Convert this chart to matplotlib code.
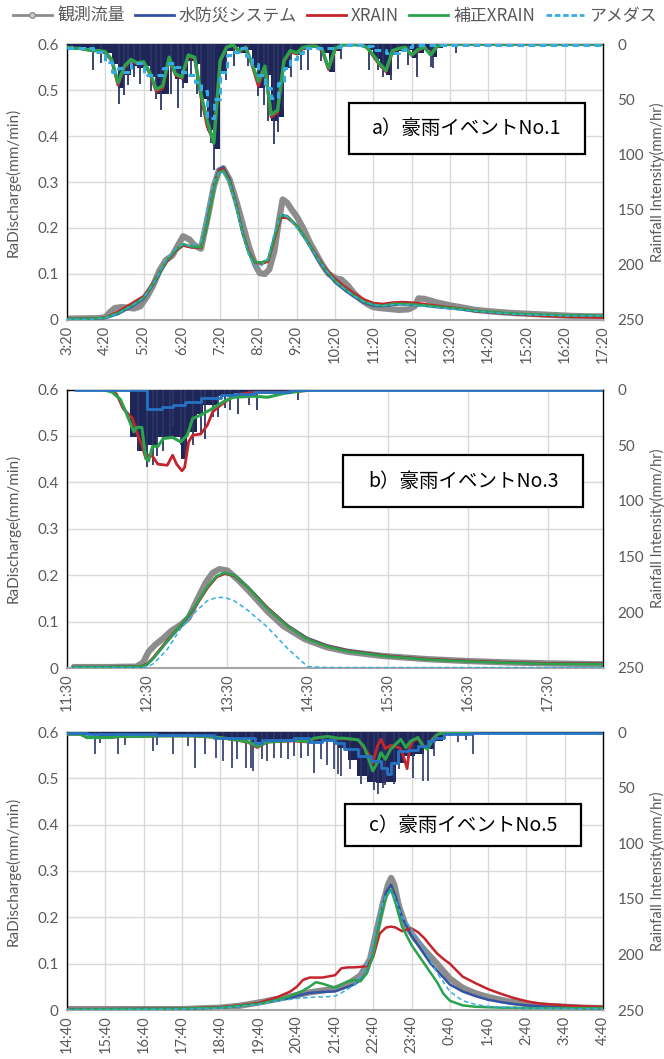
import numpy as np
import matplotlib
matplotlib.use("Agg")
import matplotlib.pyplot as plt
from matplotlib.lines import Line2D
from matplotlib.patches import Rectangle

plt.rcParams['font.family'] = ['Lato', 'Noto Sans CJK JP', 'DejaVu Sans']

# ---------------- text ----------------
legend_labels = ["観測流量", "水防災システム", "XRAIN", "補正XRAIN", "アメダス"]
ylabel_left = "RaDischarge(mm/min)"
ylabel_right = "Rainfall Intensity(mm/hr)"
panel_titles = ["a）豪雨イベントNo.1", "b）豪雨イベントNo.3", "c）豪雨イベントNo.5"]
q_ticks = [0, 0.1, 0.2, 0.3, 0.4, 0.5, 0.6]
q_tick_labels = ["0", "0.1", "0.2", "0.3", "0.4", "0.5", "0.6"]
r_ticks = [0, 50, 100, 150, 200, 250]

# ---------------- panel a ----------------
a_xlim = ["3:20", "17:20"]
a_ticks = ["3:20", "4:20", "5:20", "6:20", "7:20", "8:20", "9:20", "10:20",
           "11:20", "12:20", "13:20", "14:20", "15:20", "16:20", "17:20"]
a_obs_t = ["3:20", "4:10", "4:20", "4:28", "4:35", "4:45", "4:55", "5:05", "5:15", "5:25",
           "5:35", "5:45", "5:55", "6:05", "6:15", "6:22", "6:32", "6:40", "6:50", "7:00",
           "7:10", "7:18", "7:25", "7:35", "7:45", "7:55", "8:05", "8:15", "8:22", "8:30",
           "8:37", "8:45", "8:52", "8:58", "9:05", "9:12", "9:20", "9:30", "9:40", "9:50",
           "10:00", "10:10", "10:22", "10:30", "10:40", "10:50", "11:00", "11:10", "11:20", "11:30",
           "11:45", "12:00", "12:15", "12:25", "12:31", "12:40", "12:50", "13:00", "13:20", "13:40",
           "14:00", "14:30", "15:00", "15:30", "16:00", "16:30", "17:00", "17:20"]
a_obs_q = [0.003, 0.004, 0.006, 0.018, 0.026, 0.028, 0.027, 0.025, 0.03, 0.05,
           0.075, 0.108, 0.13, 0.14, 0.165, 0.182, 0.175, 0.162, 0.155, 0.22,
           0.29, 0.325, 0.33, 0.305, 0.26, 0.21, 0.16, 0.12, 0.102, 0.1,
           0.11, 0.15, 0.215, 0.262, 0.255, 0.24, 0.225, 0.2, 0.17, 0.145,
           0.12, 0.1, 0.09, 0.088, 0.075, 0.058, 0.045, 0.035, 0.028, 0.026,
           0.024, 0.022, 0.023, 0.03, 0.047, 0.046, 0.042, 0.038, 0.032, 0.027,
           0.022, 0.018, 0.015, 0.013, 0.011, 0.009, 0.008, 0.008]
a_sim_t = ["3:20", "4:00", "4:20", "4:40", "5:00", "5:20", "5:40", "5:55", "6:10", "6:22",
           "6:35", "6:50", "7:00", "7:10", "7:18", "7:25", "7:35", "7:45", "7:55", "8:05",
           "8:15", "8:25", "8:35", "8:45", "8:55", "9:05", "9:20", "9:35", "9:50", "10:05",
           "10:20", "10:35", "10:50", "11:05", "11:20", "11:35", "11:50", "12:05", "12:20", "12:40",
           "13:00", "13:30", "14:00", "14:30", "15:00", "15:30", "16:00", "16:30", "17:00", "17:20"]
a_blue_q = [0.002, 0.003, 0.004, 0.013, 0.028, 0.046, 0.088, 0.125, 0.15, 0.162,
            0.158, 0.158, 0.212, 0.29, 0.327, 0.332, 0.305, 0.252, 0.19, 0.145,
            0.125, 0.125, 0.13, 0.18, 0.228, 0.226, 0.205, 0.173, 0.138, 0.107,
            0.082, 0.065, 0.05, 0.038, 0.031, 0.03, 0.033, 0.034, 0.033, 0.031,
            0.028, 0.024, 0.019, 0.016, 0.013, 0.011, 0.01, 0.009, 0.009, 0.008]
a_red_q = [0.002, 0.003, 0.005, 0.018, 0.035, 0.052, 0.092, 0.125, 0.15, 0.162,
           0.158, 0.157, 0.21, 0.288, 0.325, 0.328, 0.302, 0.25, 0.19, 0.148,
           0.125, 0.122, 0.127, 0.175, 0.222, 0.222, 0.205, 0.175, 0.142, 0.113,
           0.09, 0.073, 0.058, 0.045, 0.037, 0.035, 0.038, 0.039, 0.038, 0.035,
           0.031, 0.026, 0.02, 0.016, 0.013, 0.01, 0.008, 0.007, 0.006, 0.005]
a_green_q = [0.002, 0.003, 0.005, 0.015, 0.03, 0.048, 0.09, 0.128, 0.152, 0.165,
             0.16, 0.158, 0.21, 0.285, 0.32, 0.325, 0.3, 0.25, 0.19, 0.145,
             0.125, 0.125, 0.13, 0.18, 0.228, 0.225, 0.205, 0.175, 0.14, 0.11,
             0.085, 0.068, 0.053, 0.04, 0.033, 0.031, 0.035, 0.035, 0.034, 0.032,
             0.029, 0.025, 0.02, 0.017, 0.014, 0.012, 0.011, 0.01, 0.01, 0.009]
a_cyan_q = [0.001, 0.002, 0.004, 0.014, 0.03, 0.048, 0.09, 0.13, 0.155, 0.165,
            0.16, 0.17, 0.24, 0.3, 0.322, 0.32, 0.295, 0.245, 0.185, 0.14,
            0.115, 0.118, 0.135, 0.19, 0.23, 0.225, 0.2, 0.17, 0.14, 0.11,
            0.085, 0.067, 0.052, 0.04, 0.033, 0.031, 0.033, 0.033, 0.032, 0.03,
            0.027, 0.023, 0.019, 0.016, 0.013, 0.011, 0.01, 0.009, 0.009, 0.009]
# rainfall panel a: 10-minute values from 3:20
a_rain_start = "3:20"
a_rain_step_min = 10
a_rain_end = "17:20"
a_rain_fill = [2, 3, 3, 4, 5, 6, 8, 18, 40, 28,
               20, 22, 20, 30, 45, 45, 20, 32, 35, 15,
               18, 50, 78, 95, 25, 6, 3, 8, 5, 22,
               40, 28, 70, 66, 22, 9, 10, 5, 3, 3,
               8, 25, 6, 2, 1, 1, 2, 5, 14, 22,
               28, 10, 6, 5, 13, 8, 5, 12, 4, 1,
               0]
a_rain_green = [3, 4, 4, 5, 6, 6, 7, 14, 35, 20,
                14, 17, 16, 26, 41, 38, 12, 27, 30, 10,
                12, 45, 70, 90, 15, 3, 1, 6, 3, 18,
                34, 20, 64, 60, 15, 6, 8, 3, 2, 2,
                5, 22, 4, 1, 0.5, 0.5, 1, 3, 10, 18,
                24, 6, 4, 3, 10, 5, 3, 10, 2, 0.5,
                0]
a_rain_red = [3, 4, 4, 5, 6, 6, 8, 15, 37, 21,
              15, 18, 17, 27, 43, 40, 13, 28, 31, 11,
              13, 48, 75, 88, 16, 3, 1, 7, 3, 19,
              38, 21, 66, 62, 16, 7, 9, 4, 2, 2,
              6, 23, 5, 1, 0.5, 0.5, 1, 3, 11, 19,
              25, 7, 4, 3, 10, 6, 3, 9, 2, 1,
              0]
a_rain_cyan = [4, 4, 4, 4, 7, 7, 16, 25, 22, 25,
               17, 17, 28, 28, 28, 22, 17, 21, 25, 28,
               34, 43, 67, 50, 25, 10, 7, 4, 11, 18,
               28, 40, 49, 35, 22, 14, 8, 4, 4, 4,
               4, 4, 3, 1, 0.5, 0.5, 0.5, 2, 5, 5,
               8, 8, 5, 3, 1, 0.5, 0.5, 0.5, 0.5, 0.5,
               0.5]
a_spike_t = ["4:00", "4:13", "4:41", "4:49", "4:55", "5:05", "5:15", "5:31", "5:40", "5:47",
             "6:03", "6:14", "6:22", "6:34", "6:44", "6:50", "7:01", "7:06", "7:10", "7:29",
             "7:42", "8:04", "8:19", "8:29", "8:35", "8:44", "8:50", "8:59", "9:11", "9:27",
             "9:38", "9:58", "10:19", "10:30", "11:14", "11:28", "11:36", "11:48", "11:59", "12:15",
             "12:28", "12:51", "12:54", "13:30"]
a_spike_r = [24, 17, 54, 46, 37, 30, 36, 43, 50, 60,
             45, 58, 40, 30, 45, 66, 79, 90, 114, 33,
             20, 20, 47, 55, 70, 91, 80, 60, 30, 24,
             24, 15, 24, 14, 24, 24, 30, 33, 23, 19,
             30, 21, 22, 8]

# ---------------- panel b ----------------
b_xlim = ["11:30", "18:11"]
b_ticks = ["11:30", "12:30", "13:30", "14:30", "15:30", "16:30", "17:30"]
b_obs_t = ["11:35", "12:00", "12:22", "12:27", "12:31", "12:36", "12:42", "12:48", "12:55", "13:01",
           "13:07", "13:14", "13:19", "13:24", "13:30", "13:38", "13:48", "14:00", "14:12", "14:28",
           "14:44", "15:00", "15:26", "16:00", "16:30", "17:00", "17:30", "18:11"]
b_obs_q = [0.002, 0.002, 0.003, 0.012, 0.035, 0.05, 0.064, 0.08, 0.093, 0.108,
           0.145, 0.185, 0.205, 0.213, 0.21, 0.19, 0.16, 0.122, 0.09, 0.062,
           0.045, 0.035, 0.026, 0.019, 0.015, 0.012, 0.01, 0.008]
b_sim_t = ["11:35", "12:00", "12:25", "12:30", "12:35", "12:45", "12:55", "13:05", "13:15", "13:22",
           "13:28", "13:35", "13:45", "14:00", "14:15", "14:30", "14:45", "15:00", "15:30", "16:00",
           "16:30", "17:00", "17:30", "18:11"]
b_blue_q = [0.002, 0.002, 0.003, 0.008, 0.022, 0.057, 0.09, 0.128, 0.173, 0.197,
            0.204, 0.2, 0.176, 0.13, 0.092, 0.064, 0.048, 0.038, 0.026, 0.019,
            0.015, 0.012, 0.01, 0.009]
b_red_q = [0.002, 0.002, 0.003, 0.009, 0.024, 0.06, 0.092, 0.128, 0.172, 0.196,
           0.203, 0.199, 0.175, 0.13, 0.091, 0.063, 0.047, 0.037, 0.026, 0.019,
           0.015, 0.012, 0.01, 0.009]
b_green_q = [0.002, 0.002, 0.003, 0.008, 0.022, 0.058, 0.092, 0.13, 0.175, 0.198,
             0.205, 0.2, 0.175, 0.128, 0.09, 0.062, 0.046, 0.036, 0.025, 0.018,
             0.014, 0.011, 0.009, 0.008]
b_cyan_q = [0.001, 0.001, 0.001, 0.002, 0.01, 0.04, 0.085, 0.118, 0.145, 0.152,
            0.152, 0.145, 0.125, 0.088, 0.042, 0.003, 0.001, 0.001, 0.001, 0.001,
            0.001, 0.001, 0.001, 0.001]
b_fill_t = ["12:15", "12:17", "12:22", "12:30", "12:37", "12:55", "13:00", "13:07", "13:12", "13:22",
            "13:35", "14:00", "14:30"]
b_fill_r = [0, 43, 55, 50, 43, 62, 38, 22, 14, 6, 3, 1, 0]
b_spike_t = ["12:23", "12:30", "12:34", "12:37", "12:42", "12:47", "12:49", "12:55", "12:58", "13:04",
             "13:10", "13:13", "13:19", "13:23", "13:28", "13:32", "13:38", "13:46", "13:52", "14:23"]
b_spike_r = [55, 70, 68, 60, 55, 44, 33, 50, 60, 50, 40, 44, 25, 25, 17, 18, 22, 14, 18, 9]
b_red_rt = ["11:37", "12:02", "12:07", "12:12", "12:19", "12:22", "12:26", "12:29", "12:31", "12:34",
            "12:38", "12:45", "12:49", "12:52", "12:56", "12:58", "13:01", "13:04", "13:10", "13:15",
            "13:19", "13:25", "13:32", "13:40", "13:50", "14:12", "14:30"]
b_red_r = [0, 0, 4, 17, 26, 38, 50, 62, 59, 60, 67, 68, 59, 67, 73, 70, 47, 41, 40, 32,
           20, 14, 8, 4, 2.5, 2.5, 1]
b_green_rt = ["11:37", "11:57", "12:04", "12:10", "12:15", "12:20", "12:22", "12:26", "12:29", "12:31",
              "12:34", "12:38", "12:42", "12:49", "12:55", "13:00", "13:04", "13:10", "13:19", "13:27",
              "13:34", "13:50", "14:00", "14:12", "14:30"]
b_green_r = [0, 0, 2.5, 9, 23, 38, 34, 34, 62, 64, 51, 51, 44, 43, 47, 41, 26, 23, 17, 11,
             7, 6, 7, 3.6, 0.5]
b_blue_rt = ["11:37", "12:30", "12:41", "12:49", "12:58", "13:10", "13:25", "13:35", "13:50", "14:17", "18:11"]
b_blue_r = [0, 17.5, 16, 14, 11, 8, 5, 4, 2.5, 0.8, 0.8]

# ---------------- panel c ----------------
c_xlim = ["14:40", "28:40"]
c_ticks = ["14:40", "15:40", "16:40", "17:40", "18:40", "19:40", "20:40", "21:40",
           "22:40", "23:40", "24:40", "25:40", "26:40", "27:40", "28:40"]
c_obs_t = ["14:40", "17:40", "18:40", "19:10", "19:40", "20:10", "20:40", "21:00", "21:20", "21:40",
           "22:00", "22:20", "22:35", "22:45", "22:55", "23:03", "23:08", "23:13", "23:20", "23:30",
           "23:45", "24:00", "24:20", "24:40", "25:00", "25:20", "25:40", "26:10", "26:40", "27:10",
           "27:40", "28:10", "28:40"]
c_obs_q = [0.002, 0.002, 0.005, 0.009, 0.016, 0.024, 0.032, 0.038, 0.042, 0.046,
           0.056, 0.075, 0.11, 0.17, 0.23, 0.27, 0.285, 0.27, 0.225, 0.185,
           0.155, 0.13, 0.1, 0.068, 0.048, 0.036, 0.028, 0.019, 0.013, 0.009,
           0.007, 0.005, 0.004]
c_sim_t = ["14:40", "16:00", "17:40", "18:40", "19:10", "19:40", "20:10", "20:30", "20:40", "20:50",
           "21:00", "21:10", "21:20", "21:40", "21:50", "22:00", "22:10", "22:20", "22:30", "22:40",
           "22:50", "23:00", "23:08", "23:15", "23:25", "23:40", "23:50", "24:00", "24:10", "24:20",
           "24:30", "24:40", "25:00", "25:20", "25:40", "26:00", "26:20", "26:40", "27:00", "27:40",
           "28:10", "28:40"]
c_blue_q = [0.001, 0.002, 0.003, 0.005, 0.009, 0.014, 0.021, 0.026, 0.03, 0.034,
            0.037, 0.038, 0.039, 0.04, 0.045, 0.05, 0.055, 0.065, 0.08, 0.12,
            0.19, 0.255, 0.27, 0.245, 0.2, 0.16, 0.14, 0.12, 0.1, 0.085,
            0.07, 0.055, 0.04, 0.03, 0.022, 0.017, 0.013, 0.01, 0.008, 0.005,
            0.004, 0.004]
c_red_q = [0.002, 0.002, 0.003, 0.006, 0.01, 0.015, 0.028, 0.04, 0.05, 0.065,
           0.07, 0.07, 0.07, 0.075, 0.09, 0.092, 0.092, 0.093, 0.095, 0.115,
           0.165, 0.178, 0.18, 0.178, 0.17, 0.176, 0.168, 0.155, 0.138, 0.122,
           0.11, 0.1, 0.072, 0.058, 0.045, 0.035, 0.026, 0.019, 0.014, 0.01,
           0.008, 0.007]
c_green_q = [0.001, 0.002, 0.003, 0.005, 0.009, 0.013, 0.022, 0.03, 0.036, 0.042,
             0.05, 0.06, 0.057, 0.048, 0.055, 0.062, 0.065, 0.062, 0.08, 0.12,
             0.19, 0.245, 0.26, 0.23, 0.18, 0.14, 0.12, 0.1, 0.08, 0.06,
             0.035, 0.02, 0.01, 0.007, 0.006, 0.005, 0.005, 0.004, 0.004, 0.004,
             0.004, 0.004]
c_cyan_q = [0.001, 0.001, 0.002, 0.004, 0.008, 0.012, 0.02, 0.023, 0.025, 0.026,
            0.027, 0.028, 0.028, 0.03, 0.037, 0.045, 0.055, 0.07, 0.1, 0.15,
            0.21, 0.25, 0.255, 0.24, 0.2, 0.175, 0.155, 0.13, 0.105, 0.08,
            0.06, 0.04, 0.02, 0.012, 0.008, 0.006, 0.005, 0.004, 0.004, 0.003,
            0.003, 0.003]
c_fill_t = ["14:40", "15:00", "15:30", "16:00", "17:00", "18:00", "18:30", "19:00", "19:30", "20:00",
            "20:30", "21:00", "21:30", "21:45", "22:00", "22:15", "22:30", "22:45", "23:00", "23:15",
            "23:30", "23:45", "24:00", "24:15", "24:30", "24:45", "25:00", "25:15"]
c_fill_r = [2, 3, 4, 3, 3, 4, 5, 6, 9, 7, 7, 8, 9, 14, 25, 40, 45, 46, 45, 28,
            22, 20, 15, 8, 3, 2, 1, 0]
c_spike_t = ["15:24", "15:32", "16:00", "16:11", "16:55", "17:01", "17:26", "17:49", "18:01", "18:17",
             "18:33", "18:45", "18:59", "19:07", "19:20", "19:28", "19:32", "19:46", "19:54", "20:04",
             "20:15", "20:26", "20:35", "20:46", "20:57", "21:07", "21:18", "21:28", "21:38", "21:44",
             "21:49", "22:04", "22:20", "22:31", "22:41", "22:47", "22:55", "22:59", "23:12", "23:20",
             "23:34", "23:43", "23:58", "24:05", "24:15", "24:38", "24:53", "25:05", "25:16"]
c_spike_r = [20, 10, 20, 12, 17, 12, 20, 13, 32, 20,
             23, 26, 32, 24, 32, 32, 35, 24, 26, 23,
             23, 24, 22, 23, 22, 37, 24, 30, 33, 38,
             40, 33, 47, 40, 52, 56, 50, 48, 47, 33,
             28, 41, 44, 44, 22, 4, 9, 7, 20]
c_green_rt = ["14:40", "15:01", "15:11", "15:47", "16:03", "16:35", "17:06", "17:58", "18:40", "19:23",
              "19:38", "19:54", "20:35", "20:57", "21:07", "21:28", "21:45", "21:54", "22:16", "22:25",
              "22:33", "22:39", "22:47", "22:52", "22:59", "23:07", "23:15", "23:23", "23:31", "23:39",
              "23:50", "23:58", "24:05", "24:13", "24:21", "24:31", "24:53", "25:08", "25:13"]
c_green_r = [2, 2, 5, 5, 4, 4, 3.5, 3.5, 5, 8.6,
             13, 9, 7.5, 8.6, 5.6, 4, 5.6, 5.6, 7, 12.6,
             24.6, 35, 27, 18.6, 24.6, 15.6, 11, 6.6, 14, 8,
             5, 12.6, 15.6, 6.6, 2, 0.6, 0, 0.6, 0]
c_red_rt = ["14:40", "15:01", "15:11", "15:47", "16:03", "16:35", "17:06", "17:58", "18:40", "19:23",
            "19:38", "19:54", "20:35", "20:57", "21:07", "21:28", "21:45", "21:54", "22:16", "22:25",
            "22:33", "22:39", "22:47", "22:52", "22:59", "23:07", "23:15", "23:23", "23:29", "23:33",
            "23:37", "23:42", "23:50", "23:58", "24:05", "24:13", "24:21", "24:31", "24:53", "25:08",
            "25:13"]
c_red_r = [2, 2, 5, 5, 4, 4, 3.5, 3.5, 5, 9,
           14, 9, 8, 9, 6, 4, 6, 6, 7, 14,
           20, 28, 12, 6.6, 15, 12, 13, 15, 25, 33,
           14, 8, 6, 12, 14, 6, 2, 0.6, 0, 0.6,
           0]
c_blue_rt = ["14:40", "15:11", "17:00", "18:30", "19:35", "19:45", "20:35", "21:00", "21:20", "21:40",
             "21:54", "22:16", "22:36", "22:52", "23:02", "23:07", "23:18", "23:34", "23:50", "24:05",
             "24:15", "24:31", "25:02", "25:13", "28:40"]
c_blue_r = [0.5, 1.5, 3, 5.5, 10, 7, 5.6, 9, 7, 10,
            15.5, 21.6, 26, 32, 38, 28, 17, 16, 13, 8,
            5, 2, 2, 0.5, 0.5]

# ---------------- style ----------------
GRAY = '#8c8c8c'
BLUE = '#3352a3'
RED = '#c4252c'
GREEN = '#2ba24c'
CYAN = '#35ade4'
NAVY = '#1e2657'
SPIKE = '#2c3566'
RBLUE = '#2573c2'
GRID = '#d9d9d9'
TXT = '#595959'


def hrs(lst):
    out = []
    for s in lst:
        h, m = s.split(":")
        out.append(int(h) + int(m) / 60.0)
    return np.array(out)


def tick_label(s):
    h, m = s.split(":")
    return f"{int(h) % 24}:{m}"


fig = plt.figure(figsize=(6.64, 10.59), dpi=100)
W, H = 664.0, 1059.0


def make_axes(top_px, bot_px):
    left, right = 67.0, 603.0
    return fig.add_axes([left / W, 1 - bot_px / H, (right - left) / W, (bot_px - top_px) / H])


def style(ax, ax2, xlim, ticks, title, box):
    x0, x1 = hrs(xlim)
    ax.set_xlim(x0, x1)
    ax.set_ylim(0, 0.6)
    ax.set_yticks(q_ticks)
    ax.set_yticklabels(q_tick_labels)
    ax.set_xticks(hrs(ticks))
    ax.set_xticklabels([tick_label(s) for s in ticks], rotation=90)
    ax.grid(True, color=GRID, lw=1.0)
    ax.set_axisbelow(True)
    ax.tick_params(axis='y', length=0, pad=6, labelsize=11, labelcolor=TXT)
    ax.tick_params(axis='x', length=0, pad=4, labelsize=10.5, labelcolor=TXT)
    for sp in ['left', 'right', 'top']:
        ax.spines[sp].set_color('black')
        ax.spines[sp].set_linewidth(1.0)
    ax.spines['bottom'].set_color('#a6a6a6')
    ax.spines['bottom'].set_linewidth(1.5)
    ax2.set_ylim(250, 0)
    ax2.set_yticks(r_ticks)
    ax2.tick_params(axis='y', length=0, pad=10.5, labelsize=11, labelcolor=TXT)
    for sp in ax2.spines.values():
        sp.set_visible(False)
    ax.set_ylabel(ylabel_left, fontsize=11, color=TXT)
    ax.yaxis.set_label_coords(-0.086, 0.5)
    ax2.set_ylabel(ylabel_right, fontsize=10.5, color=TXT, rotation=90)
    ax2.yaxis.set_label_coords(1.0885, 0.5)
    bx0, by0, bx1, by1 = box
    ax2.add_patch(Rectangle((bx0, by0), bx1 - bx0, by1 - by0, transform=ax2.transAxes,
                            facecolor='white', edgecolor='black', lw=1.6, zorder=10))
    ax2.text((bx0 + bx1) / 2, (by0 + by1) / 2, title, transform=ax2.transAxes,
             ha='center', va='center', fontsize=14, color='black',
             family=['Noto Sans CJK JP'], zorder=11)


def discharge(ax, obs_t, obs_q, sim_t, blue, red, green, cyan):
    ax.plot(hrs(obs_t), obs_q, color=GRAY, lw=4.5, solid_capstyle='round', zorder=2)
    st = hrs(sim_t)
    ax.plot(st, blue, color=BLUE, lw=1.8, zorder=3)
    ax.plot(st, red, color=RED, lw=1.8, zorder=4)
    ax.plot(st, green, color=GREEN, lw=1.8, zorder=5)
    ax.plot(st, cyan, color=CYAN, lw=1.1, ls=(0, (3, 2)), zorder=6)


# ---------------- panel a ----------------
axa = make_axes(44, 320)
axa2 = axa.twinx()
discharge(axa, a_obs_t, a_obs_q, a_sim_t, a_blue_q, a_red_q, a_green_q, a_cyan_q)
t0 = hrs([a_rain_start])[0]
ta = t0 + np.arange(len(a_rain_fill)) * a_rain_step_min / 60.0
ta_full = np.append(ta, hrs([a_rain_end])[0])
axa2.fill_between(ta, 0, a_rain_fill, step='post', color=NAVY, lw=0, zorder=1)
axa2.vlines(hrs(a_spike_t), 0, a_spike_r, color=SPIKE, lw=1.3, zorder=2)
axa2.plot(ta_full, np.append(a_rain_red, 0), color=RED, lw=2.2, zorder=3)
axa2.plot(ta_full, np.append(a_rain_green, 0), color=GREEN, lw=2.4, zorder=4)
axa2.plot(ta_full, np.append(a_rain_cyan, 0), color=CYAN, lw=2.2, ls=(0, (2.2, 1.4)),
          drawstyle='steps-post', zorder=5)
style(axa, axa2, a_xlim, a_ticks, panel_titles[0], (0.526, 0.602, 0.966, 0.786))

# ---------------- panel b ----------------
axb = make_axes(389.5, 668)
axb2 = axb.twinx()
discharge(axb, b_obs_t, b_obs_q, b_sim_t, b_blue_q, b_red_q, b_green_q, b_cyan_q)
axb2.fill_between(hrs(b_fill_t), 0, b_fill_r, step='post', color=NAVY, lw=0, zorder=1)
axb2.vlines(hrs(b_spike_t), 0, b_spike_r, color=SPIKE, lw=1.3, zorder=2)
axb2.plot(hrs(b_red_rt), b_red_r, color=RED, lw=2.0, zorder=3)
axb2.plot(hrs(b_green_rt), b_green_r, color=GREEN, lw=2.2, zorder=4)
axb2.plot(hrs(b_blue_rt), b_blue_r, color=RBLUE, lw=2.0, drawstyle='steps-post', zorder=5)
style(axb, axb2, b_xlim, b_ticks, panel_titles[1], (0.515, 0.578, 0.963, 0.765))

# ---------------- panel c ----------------
axc = make_axes(732, 1010)
axc2 = axc.twinx()
discharge(axc, c_obs_t, c_obs_q, c_sim_t, c_blue_q, c_red_q, c_green_q, c_cyan_q)
axc2.fill_between(hrs(c_fill_t), 0, c_fill_r, step='post', color=NAVY, lw=0, zorder=1)
axc2.vlines(hrs(c_spike_t), 0, c_spike_r, color=SPIKE, lw=1.2, zorder=2)
axc2.plot(hrs(c_red_rt), c_red_r, color=RED, lw=2.0, zorder=3)
axc2.plot(hrs(c_green_rt), c_green_r, color=GREEN, lw=2.2, zorder=4)
axc2.plot(hrs(c_blue_rt), c_blue_r, color=RBLUE, lw=2.0, drawstyle='steps-post', zorder=5)
style(axc, axc2, c_xlim, c_ticks, panel_titles[2], (0.519, 0.59, 0.959, 0.741))

# ---------------- legend ----------------
handles = [
    Line2D([], [], color=GRAY, lw=2, marker='o', ms=4, mfc='#cfcfcf', mec=GRAY),
    Line2D([], [], color=BLUE, lw=2),
    Line2D([], [], color=RED, lw=2),
    Line2D([], [], color=GREEN, lw=2),
    Line2D([], [], color=CYAN, lw=2, ls=(0, (2, 1))),
]
fig.legend(handles, legend_labels, loc='center left', bbox_to_anchor=(13 / W, 1 - 16 / H),
           ncol=5, frameon=False, handlelength=2.3, handletextpad=0.3, columnspacing=0.6,
           borderaxespad=0, borderpad=0, numpoints=1, labelcolor=TXT,
           prop={'family': ['Noto Sans CJK JP'], 'size': 12.2})

fig.savefig("out.png", dpi=100)
